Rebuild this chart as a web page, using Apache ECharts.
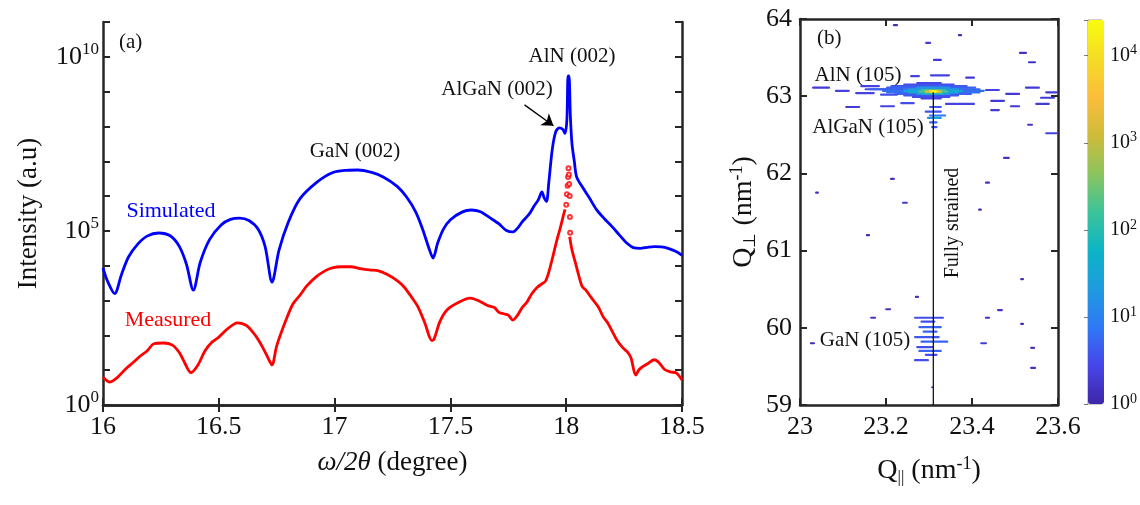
<!DOCTYPE html>
<html>
<head>
    <meta charset="utf-8">
    <title>XRD scan and RSM</title>
    <script src="https://cdn.jsdelivr.net/npm/echarts@6/dist/echarts.min.js"></script>
</head>
<body style="margin:0;background:#fff">
<div id="main" style="width:1140px;height:505px"></div>
<script type="text/javascript">
    // (a) omega/2theta scan, intensity given as log10 exponent
    var simX = [16.00, 16.02, 16.05, 16.08, 16.11, 16.15, 16.19, 16.24, 16.29, 16.33, 16.36, 16.39, 16.42, 16.46, 16.51, 16.55, 16.59, 16.63, 16.67, 16.70, 16.73, 16.76, 16.80, 16.85, 16.92, 16.99, 17.05, 17.10, 17.16, 17.21, 17.27, 17.31, 17.35, 17.38, 17.41, 17.425, 17.445, 17.47, 17.50, 17.55, 17.59, 17.63, 17.67, 17.71, 17.74, 17.77, 17.79, 17.81, 17.84, 17.86, 17.88, 17.895, 17.905, 17.915, 17.925, 17.94, 17.955, 17.97, 17.985, 17.995, 18.003, 18.008, 18.012, 18.018, 18.025, 18.035, 18.045, 18.07, 18.10, 18.13, 18.165, 18.20, 18.23, 18.26, 18.29, 18.32, 18.35, 18.38, 18.41, 18.44, 18.47, 18.50];
    var simLog = [3.94, 3.55, 3.20, 3.75, 4.25, 4.62, 4.85, 4.94, 4.86, 4.55, 4.05, 3.30, 4.10, 4.75, 5.17, 5.33, 5.37, 5.30, 5.05, 4.55, 3.53, 4.45, 5.25, 5.92, 6.38, 6.67, 6.74, 6.75, 6.68, 6.55, 6.28, 5.98, 5.55, 5.05, 4.45, 4.22, 4.65, 5.05, 5.32, 5.54, 5.60, 5.55, 5.38, 5.20, 5.02, 4.97, 5.08, 5.26, 5.48, 5.70, 5.90, 6.12, 5.95, 5.85, 6.40, 7.35, 7.85, 7.96, 7.92, 7.80, 8.20, 9.45, 9.45, 8.30, 7.50, 7.00, 6.55, 6.26, 5.95, 5.62, 5.35, 5.11, 4.88, 4.66, 4.52, 4.50, 4.53, 4.55, 4.54, 4.50, 4.42, 4.30];

    var measX = [16.00, 16.03, 16.06, 16.10, 16.13, 16.16, 16.19, 16.22, 16.26, 16.30, 16.33, 16.35, 16.38, 16.41, 16.44, 16.47, 16.50, 16.54, 16.58, 16.62, 16.66, 16.69, 16.72, 16.73, 16.75, 16.79, 16.82, 16.85, 16.88, 16.92, 16.96, 16.99, 17.03, 17.07, 17.11, 17.15, 17.19, 17.23, 17.27, 17.30, 17.33, 17.36, 17.39, 17.42, 17.43, 17.455, 17.485, 17.53, 17.585, 17.62, 17.66, 17.69, 17.71, 17.73, 17.75, 17.77, 17.79, 17.81, 17.83, 17.85, 17.875, 17.895, 17.91, 17.925, 17.94, 17.96, 17.975, 17.99, 17.995, 18.005, 18.015, 18.025, 18.04, 18.055, 18.07, 18.085, 18.10, 18.12, 18.14, 18.16, 18.18, 18.20, 18.22, 18.245, 18.265, 18.28, 18.30, 18.315, 18.33, 18.355, 18.38, 18.40, 18.425, 18.45, 18.475, 18.50];
    var measLog = [0.80, 0.66, 0.78, 1.05, 1.22, 1.40, 1.55, 1.76, 1.78, 1.72, 1.50, 1.25, 0.93, 1.15, 1.55, 1.80, 1.95, 2.20, 2.36, 2.28, 1.98, 1.65, 1.25, 1.15, 1.70, 2.44, 2.90, 3.15, 3.42, 3.68, 3.86, 3.94, 3.97, 3.97, 3.92, 3.88, 3.85, 3.74, 3.57, 3.39, 3.12, 2.82, 2.35, 1.85, 1.90, 2.40, 2.73, 2.93, 3.07, 3.00, 2.86, 2.80, 2.66, 2.62, 2.58, 2.44, 2.58, 2.80, 2.95, 3.18, 3.38, 3.48, 3.55, 3.82, 4.20, 4.74, 5.10, 5.50, 5.62, null, 4.83, 4.45, 4.08, 3.70, 3.39, 3.30, 3.16, 2.98, 2.80, 2.53, 2.35, 2.10, 1.85, 1.64, 1.52, 1.35, 0.86, 1.02, 1.10, 1.20, 1.30, 1.22, 1.02, 0.95, 0.92, 0.72];

    // sparse measured points across the AlN peak (drawn as open circles)
    var peakX = [18.000, 18.003, 18.006, 18.008, 18.010, 18.012, 18.013, 18.015, 18.016, 18.017];
    var peakLog = [5.75, 6.05, 6.30, 6.55, 6.80, 6.62, 6.35, 6.00, 5.40, 4.95];

    // (b) RSM streaks: [Qx start, Qx end, Qz, log10 intensity]
    var rsmStreaks = [
        [23.291, 23.305, 63.69, 0.3], [23.309, 23.330, 63.47, 0.3], [23.216, 23.228, 63.92, 0.1],
        [23.367, 23.377, 63.79, 0.1], [23.509, 23.528, 63.56, 0.2], [23.530, 23.549, 63.44, 0.2],
        [23.256, 23.279, 63.26, 0.4], [23.302, 23.349, 63.27, 0.4], [23.384, 23.407, 63.24, 0.3],
        [23.028, 23.070, 63.11, 0.3], [23.081, 23.116, 63.07, 0.4], [23.128, 23.174, 63.04, 0.4],
        [23.140, 23.186, 63.13, 0.4], [23.186, 23.228, 63.02, 0.5], [23.430, 23.465, 63.08, 0.4],
        [23.477, 23.512, 63.03, 0.3], [23.523, 23.558, 63.11, 0.3], [23.558, 23.593, 62.98, 0.3],
        [23.570, 23.600, 63.05, 0.3], [23.442, 23.477, 62.94, 0.3], [23.186, 23.221, 62.87, 0.4],
        [23.233, 23.267, 62.91, 0.5], [23.337, 23.407, 62.90, 0.4], [23.442, 23.465, 62.82, 0.3],
        [23.488, 23.512, 62.87, 0.3], [23.547, 23.581, 62.90, 0.3], [23.105, 23.140, 62.86, 0.3],
        [23.570, 23.600, 62.52, 0.4], [23.472, 23.488, 62.20, 0.2], [23.528, 23.542, 62.63, 0.2],
        [23.430, 23.442, 61.88, 0.2], [23.209, 23.221, 61.93, 0.2], [23.237, 23.251, 61.62, 0.3],
        [23.035, 23.044, 61.75, 0.1], [23.414, 23.423, 61.53, 0.1], [23.153, 23.163, 61.20, 0.1],
        [23.267, 23.277, 60.40, 0.2], [23.198, 23.212, 60.24, 0.2], [23.163, 23.177, 60.13, 0.2],
        [23.512, 23.521, 60.63, 0.1], [23.458, 23.472, 60.23, 0.2], [23.430, 23.442, 60.13, 0.1],
        [23.512, 23.521, 60.05, 0.1], [23.419, 23.435, 59.80, 0.3], [23.535, 23.547, 59.74, 0.2],
        [23.535, 23.549, 59.48, 0.2], [23.305, 23.309, 59.23, 0.2], [23.023, 23.035, 59.80, 0.1],
        // GaN (105)
        [23.265, 23.335, 60.13, 0.5], [23.280, 23.315, 60.08, 0.5], [23.275, 23.330, 60.01, 0.7],
        [23.285, 23.320, 59.95, 0.7], [23.265, 23.325, 59.88, 0.6], [23.280, 23.345, 59.82, 0.7],
        [23.270, 23.310, 59.75, 0.5], [23.275, 23.330, 59.70, 0.7], [23.290, 23.320, 59.65, 0.5],
        [23.265, 23.300, 59.58, 0.5],
        // AlGaN (105)
        [23.300, 23.330, 62.86, 0.6], [23.290, 23.330, 62.80, 0.6], [23.300, 23.340, 62.75, 0.9],
        [23.295, 23.330, 62.72, 1.1], [23.305, 23.325, 62.72, 1.5], [23.300, 23.320, 62.66, 0.7],
        [23.305, 23.320, 62.60, 0.5],
        // AlN (105)
        [23.150, 23.240, 63.09, 0.5], [23.270, 23.330, 63.17, 0.4], [23.240, 23.360, 63.15, 0.5],
        [23.210, 23.390, 63.13, 0.6], [23.200, 23.410, 63.11, 0.7], [23.160, 23.420, 63.09, 0.7],
        [23.190, 23.430, 63.07, 0.8], [23.200, 23.420, 63.05, 0.8], [23.220, 23.400, 63.03, 0.7],
        [23.240, 23.370, 63.01, 0.6], [23.260, 23.350, 62.99, 0.5], [23.280, 23.330, 62.97, 0.4],
        [23.270, 23.350, 63.11, 1.2], [23.250, 23.370, 63.09, 1.3], [23.240, 23.380, 63.07, 1.5],
        [23.250, 23.370, 63.05, 1.5], [23.270, 23.350, 63.03, 1.3],
        [23.280, 23.340, 63.08, 2.1], [23.275, 23.345, 63.06, 2.3], [23.285, 23.335, 63.04, 2.0],
        [23.290, 23.330, 63.07, 2.9], [23.290, 23.330, 63.055, 3.1],
        [23.300, 23.322, 63.065, 3.8], [23.304, 23.318, 63.06, 4.35]
    ];
    var strainQx = 23.31;
    var strainQz = [59, 63.05];

    var yTicksA = [0, 5, 10];
    var cbarMax = 4.41;

    var serif = 'Liberation Serif';
    var parula = ['#3e26a8', '#4745e8', '#2f78f6', '#1e9bdf', '#0db4c6', '#3cc39a', '#8cc45e', '#cfbb3a', '#fcbd3c', '#f5dc25', '#f9fb0e'];

    function zip(xs, ys) {
        return xs.map(function (x, i) { return [x, ys[i]]; });
    }
    function pow10(v) {
        return '{b|10}{s|' + v + '}';
    }

    var myChart = echarts.init(document.getElementById('main'));
    var axisLine = { lineStyle: { color: '#262626', width: 2.5 } };
    var tick = { inside: true, length: 7, lineStyle: { color: '#262626', width: 2 } };
    var richBig = {
        b: { fontFamily: serif, fontSize: 26, color: '#111' },
        s: { fontFamily: serif, fontSize: 17, color: '#111', padding: [0, 0, 14, 0] }
    };
    var richQ = {
        sub: { fontFamily: serif, fontSize: 17, color: '#111', padding: [14, 0, 0, 0] },
        sup: { fontFamily: serif, fontSize: 18, color: '#111', padding: [0, 0, 14, 0] }
    };

    option = {
        animation: false,
        grid: [
            { left: 103, top: 22, width: 579, height: 383 },
            { left: 800, top: 19, width: 258, height: 386 },
            { left: 1088, top: 20, width: 16, height: 384, show: true, borderColor: '#999', borderWidth: 1 }
        ],
        xAxis: [
            {
                gridIndex: 0, type: 'value', min: 16, max: 18.5, interval: 0.5,
                axisLine: axisLine, axisTick: tick, splitLine: { show: false },
                axisLabel: { fontFamily: serif, fontSize: 26, color: '#111', margin: 9 },
                name: '{i|ω/2θ} (degree)', nameLocation: 'middle', nameGap: 44,
                nameTextStyle: {
                    fontFamily: serif, fontSize: 27, color: '#111',
                    rich: { i: { fontFamily: serif, fontSize: 27, fontStyle: 'italic', color: '#111' } }
                }
            },
            {
                gridIndex: 0, type: 'value', position: 'top', min: 16, max: 18.5, interval: 0.5,
                axisLine: axisLine, axisTick: tick, axisLabel: { show: false }, splitLine: { show: false }
            },
            {
                gridIndex: 1, type: 'value', min: 23, max: 23.6, interval: 0.2,
                axisLine: axisLine, axisTick: tick, splitLine: { show: false },
                axisLabel: {
                    fontFamily: serif, fontSize: 26, color: '#111', margin: 9,
                    formatter: function (v) { return v === 23 ? '23' : v.toFixed(1); }
                },
                name: 'Q{sub|||} (nm{sup|-1})', nameLocation: 'middle', nameGap: 50,
                nameTextStyle: { fontFamily: serif, fontSize: 28, color: '#111', rich: richQ }
            },
            {
                gridIndex: 1, type: 'value', position: 'top', min: 23, max: 23.6, interval: 0.2,
                axisLine: axisLine, axisTick: tick, axisLabel: { show: false }, splitLine: { show: false }
            },
            { gridIndex: 2, type: 'value', min: 0, max: 1, show: false }
        ],
        yAxis: [
            {
                gridIndex: 0, type: 'value', min: 0, max: 11, interval: 1,
                axisLine: axisLine, axisTick: tick, splitLine: { show: false },
                axisLabel: {
                    margin: 4,
                    formatter: function (v) { return yTicksA.indexOf(v) >= 0 ? pow10(v) : ''; },
                    rich: richBig
                },
                name: 'Intensity (a.u)', nameLocation: 'middle', nameGap: 61,
                nameTextStyle: { fontFamily: serif, fontSize: 27, color: '#111' }
            },
            {
                gridIndex: 0, type: 'value', position: 'right', min: 0, max: 11, interval: 1,
                axisLine: axisLine, axisTick: tick, axisLabel: { show: false }, splitLine: { show: false }
            },
            {
                gridIndex: 1, type: 'value', min: 59, max: 64, interval: 1,
                axisLine: axisLine, axisTick: tick, splitLine: { show: false },
                axisLabel: { fontFamily: serif, fontSize: 26, color: '#111', margin: 8 },
                name: 'Q{sub|⊥} (nm{sup|-1})', nameLocation: 'middle', nameGap: 40,
                nameTextStyle: { fontFamily: serif, fontSize: 28, color: '#111', rich: richQ }
            },
            {
                gridIndex: 1, type: 'value', position: 'right', min: 59, max: 64, interval: 1,
                axisLine: axisLine, axisTick: tick, axisLabel: { show: false }, splitLine: { show: false }
            },
            {
                gridIndex: 2, type: 'value', position: 'right', min: 0, max: cbarMax, interval: 1,
                axisLine: { show: false }, splitLine: { show: false },
                axisTick: { inside: true, length: 4, lineStyle: { color: '#777', width: 1 } },
                axisLabel: {
                    margin: 8,
                    formatter: function (v) { return v === Math.round(v) ? pow10(v) : ''; },
                    rich: {
                        b: { fontFamily: serif, fontSize: 20, color: '#111' },
                        s: { fontFamily: serif, fontSize: 14, color: '#111', padding: [0, 0, 10, 0] }
                    }
                }
            }
        ],
        visualMap: {
            type: 'continuous', seriesIndex: 3, dimension: 3,
            min: 0, max: cbarMax, calculable: false, hoverLink: false,
            left: 1088, top: 20, padding: 0, itemWidth: 16, itemHeight: 384,
            text: null, showLabel: false,
            inRange: { color: parula }
        },
        series: [
            {
                name: 'Simulated', type: 'line', xAxisIndex: 0, yAxisIndex: 0,
                data: zip(simX, simLog), showSymbol: false, smooth: 0.3,
                lineStyle: { color: '#0000ff', width: 2.8 },
                markLine: {
                    silent: true, symbol: ['none', 'arrow'], symbolSize: 11,
                    lineStyle: { color: '#000', width: 1.3, type: 'solid' },
                    label: { show: false },
                    data: [[{ coord: [17.82, 8.62] }, { coord: [17.945, 8.02] }]]
                },
                z: 3
            },
            {
                name: 'Measured', type: 'line', xAxisIndex: 0, yAxisIndex: 0,
                data: zip(measX, measLog), showSymbol: false, smooth: 0.3, connectNulls: false,
                lineStyle: { color: '#ff0000', width: 2.8 },
                z: 2
            },
            {
                name: 'Measured peak', type: 'scatter', xAxisIndex: 0, yAxisIndex: 0,
                data: zip(peakX, peakLog), symbol: 'emptyCircle', symbolSize: 4,
                itemStyle: { color: '#ff0000', borderColor: '#ff0000', borderWidth: 1 },
                z: 2
            },
            {
                name: 'RSM', type: 'custom', xAxisIndex: 2, yAxisIndex: 2,
                data: rsmStreaks, clip: true,
                encode: { x: [0, 1], y: 2 },
                renderItem: function (params, api) {
                    var p1 = api.coord([api.value(0), api.value(2)]);
                    var p2 = api.coord([api.value(1), api.value(2)]);
                    return {
                        type: 'rect',
                        shape: { x: p1[0], y: p1[1] - 1.1, width: Math.max(p2[0] - p1[0], 2), height: 2.2, r: 1.1 },
                        style: { fill: api.visual('color') }
                    };
                },
                z: 2
            },
            {
                name: 'Fully strained', type: 'line', xAxisIndex: 2, yAxisIndex: 2,
                data: strainQz.map(function (q) { return [strainQx, q]; }),
                showSymbol: false, lineStyle: { color: '#000', width: 1.2 },
                z: 4
            }
        ],
        graphic: [
            { type: 'text', left: 119, top: 32, style: { text: '(a)', font: '21px "Liberation Serif"', fill: '#111' } },
            { type: 'text', x: 355, y: 151, style: { text: 'GaN (002)', font: '21px "Liberation Serif"', fill: '#111', align: 'center', verticalAlign: 'middle' } },
            { type: 'text', x: 497, y: 89, style: { text: 'AlGaN (002)', font: '21px "Liberation Serif"', fill: '#111', align: 'center', verticalAlign: 'middle' } },
            { type: 'text', x: 572, y: 56, style: { text: 'AlN (002)', font: '21px "Liberation Serif"', fill: '#111', align: 'center', verticalAlign: 'middle' } },
            { type: 'text', x: 171, y: 211, style: { text: 'Simulated', font: '22px "Liberation Serif"', fill: '#0000ff', align: 'center', verticalAlign: 'middle' } },
            { type: 'text', x: 168, y: 320, style: { text: 'Measured', font: '22px "Liberation Serif"', fill: '#ff0000', align: 'center', verticalAlign: 'middle' } },
            { type: 'text', left: 817, top: 28, style: { text: '(b)', font: '21px "Liberation Serif"', fill: '#111' } },
            { type: 'text', x: 858, y: 75, z: 10, style: { text: 'AlN (105)', font: '21px "Liberation Serif"', fill: '#111', align: 'center', verticalAlign: 'middle' } },
            { type: 'text', x: 868, y: 127, z: 10, style: { text: 'AlGaN (105)', font: '21px "Liberation Serif"', fill: '#111', align: 'center', verticalAlign: 'middle' } },
            { type: 'text', x: 865, y: 340, z: 10, style: { text: 'GaN (105)', font: '21px "Liberation Serif"', fill: '#111', align: 'center', verticalAlign: 'middle' } },
            { type: 'text', x: 953, y: 223, rotation: Math.PI / 2, z: 10, style: { text: 'Fully strained', font: '20px "Liberation Serif"', fill: '#111', align: 'center', verticalAlign: 'middle' } }
        ]
    };
    myChart.setOption(option);
</script>
</body>
</html>
